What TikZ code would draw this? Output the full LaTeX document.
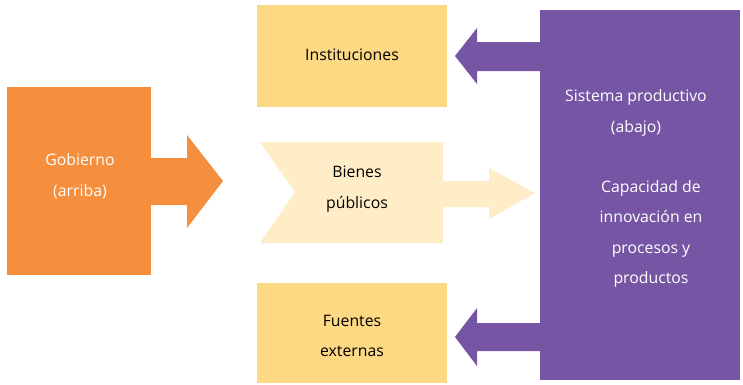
\documentclass[tikz,border=0pt]{standalone}
\usepackage{fontspec}
\setmainfont{Open Sans}
\definecolor{gobor}{HTML}{F58F3E}
\definecolor{instye}{HTML}{FDD984}
\definecolor{bienye}{HTML}{FEEDC7}
\definecolor{sispu}{HTML}{7656A4}
\begin{document}
\begin{tikzpicture}[x=1pt,y=-1pt,
  lbl/.style={align=center,font=\fontsize{15.8}{30.5}\selectfont},
  wlbl/.style={lbl,text=white}]
\useasboundingbox (0,0) rectangle (743,384);
% boxes
\fill[gobor] (7,87) rectangle (151,275);
\fill[instye] (257,5) rectangle (447,107);
\fill[instye] (257,283) rectangle (447,383);
\fill[sispu] (540,10) rectangle (740,380);
\fill[bienye] (260,142) -- (443,142) -- (443,243) -- (260,243) -- (295,192) -- cycle;
% arrows
\fill[gobor] (150,158) -- (187,158) -- (187,135) -- (223,181) -- (187,228) -- (187,205) -- (150,205) -- cycle;
\fill[bienye] (442,181) -- (489,181) -- (489,168) -- (535,193) -- (489,219) -- (489,207) -- (442,207) -- cycle;
\fill[sispu] (541,42) -- (477,42) -- (477,28) -- (455,56) -- (477,84) -- (477,71) -- (541,71) -- cycle;
\fill[sispu] (541,323) -- (477,323) -- (477,308) -- (455,337) -- (477,366) -- (477,351) -- (541,351) -- cycle;
% labels
\node[wlbl] (gob) at (80,176) {Gobierno\\(arriba)};
\node[lbl] (ins) at (352,55) {Instituciones};
\node[lbl] (bie) at (357,189) {Bienes\\públicos};
\node[lbl] (fue) at (352,336) {Fuentes\\externas};
\node[wlbl] (sis) at (636,113) {Sistema productivo\\(abajo)};
\node[wlbl] (cap) at (651,234) {Capacidad de\\innovación en\\procesos y\\productos};
\end{tikzpicture}
\end{document}
